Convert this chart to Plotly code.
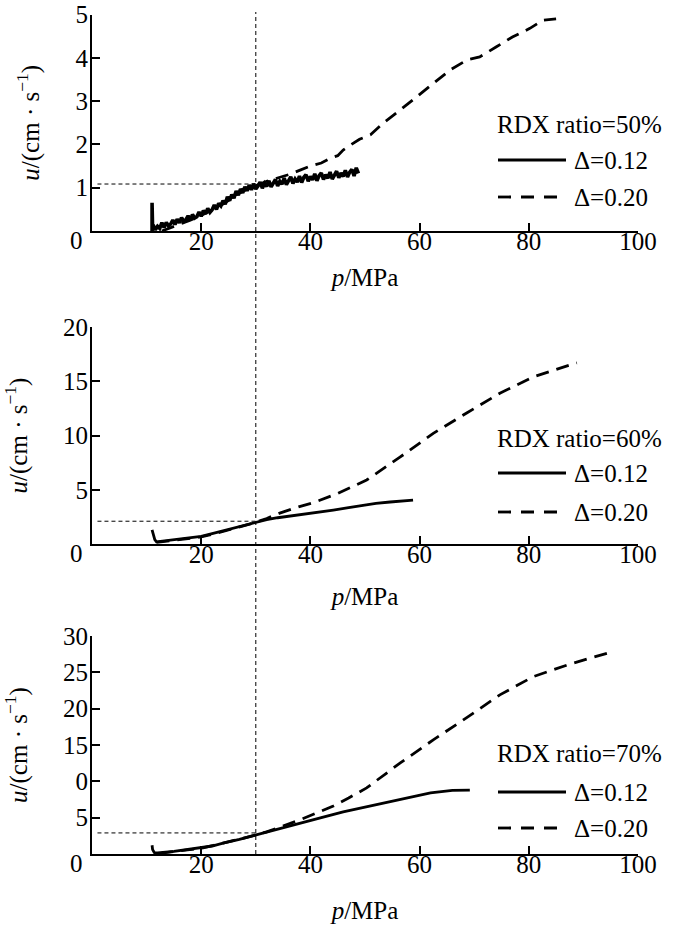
import plotly.graph_objects as go

W, H = 685, 925
FONT = "Times New Roman, Liberation Serif, Times, serif"
FS = 25

# ---------------- data ----------------
x_ticks = [20, 40, 60, 80, 100]

# RDX ratio = 50 %  (Δ=0.12 is a noisy measured trace)
p50_a = [11.0, 11.0, 11.1,
         11.2, 11.6, 12.0, 12.4, 12.8, 13.2, 13.6, 14.0, 14.4, 14.8, 15.2, 15.6, 16.0, 16.4, 16.8,
         17.2, 17.6, 18.0, 18.4, 18.8, 19.2, 19.6, 20.0, 20.4, 20.8, 21.2, 21.6, 22.0, 22.4, 22.8,
         23.2, 23.6, 24.0, 24.4, 24.8, 25.2, 25.6, 26.0, 26.4, 26.8, 27.2, 27.6, 28.0, 28.4, 28.8,
         29.2, 29.6, 30.0, 30.4, 30.8, 31.2, 31.6, 32.0, 32.4, 32.8, 33.2, 33.6, 34.0, 34.4, 34.8,
         35.2, 35.6, 36.0, 36.4, 36.8, 37.2, 37.6, 38.0, 38.4, 38.8, 39.2, 39.6, 40.0, 40.4, 40.8,
         41.2, 41.6, 42.0, 42.4, 42.8, 43.2, 43.6, 44.0, 44.4, 44.8, 45.2, 45.6, 46.0, 46.4, 46.8,
         47.2, 47.6, 48.0, 48.4, 48.8]
u50_a = [0.0, 0.65, 0.05,
         0.14, 0.03, 0.11, 0.06, 0.19, 0.08, 0.2, 0.12, 0.16, 0.25, 0.15, 0.27, 0.19, 0.31, 0.22,
         0.26, 0.35, 0.25, 0.38, 0.3, 0.33, 0.44, 0.34, 0.47, 0.4, 0.52, 0.43, 0.49, 0.6, 0.5,
         0.64, 0.58, 0.7, 0.62, 0.79, 0.7, 0.84, 0.76, 0.92, 0.83, 0.97, 0.88, 1.02, 0.93, 1.06,
         0.95, 1.09, 0.97, 1.04, 1.13, 0.99, 1.1, 1.03, 1.16, 1.02, 1.12, 1.19, 1.04, 1.15, 1.08,
         1.22, 1.07, 1.17, 1.25, 1.1, 1.2, 1.13, 1.27, 1.12, 1.24, 1.3, 1.15, 1.26, 1.18, 1.32,
         1.16, 1.28, 1.34, 1.19, 1.3, 1.22, 1.36, 1.2, 1.31, 1.38, 1.23, 1.34, 1.26, 1.4, 1.25,
         1.36, 1.42, 1.27, 1.46, 1.33]
p50_b = [12.8, 15, 18, 21, 24, 27, 29, 32, 36, 38, 40, 42, 44, 45, 46, 47.5, 49, 51, 53.3, 56.4,
         59.5, 62.5, 65.6, 68.7, 71, 74, 77, 80.2, 82.6, 85]
u50_b = [0.0, 0.1, 0.25, 0.42, 0.62, 0.88, 1.0, 1.15, 1.3, 1.4, 1.5, 1.57, 1.7, 1.74, 1.87, 2.0,
         2.12, 2.22, 2.49, 2.79, 3.1, 3.41, 3.72, 3.95, 4.02, 4.25, 4.48, 4.68, 4.87, 4.9]

# RDX ratio = 60 %
p60_a = [11.0, 11.5, 11.8, 14, 17, 20, 22, 24, 26, 28, 30, 32, 34, 36, 38, 41, 44.2, 47,
         50.3, 52, 54.6, 56, 58.8]
u60_a = [1.3, 0.4, 0.2, 0.32, 0.5, 0.7, 0.95, 1.2, 1.45, 1.72, 2.0, 2.25, 2.42, 2.55, 2.67, 2.9,
         3.13, 3.35, 3.6, 3.75, 3.87, 3.95, 4.05]
p60_b = [11.8, 16, 20, 24, 27, 30, 32, 34.4, 38, 40.5, 45, 50.3, 56.4, 62.5, 68.7, 74.7, 80.8,
         84.4, 88.8]
u60_b = [0.15, 0.4, 0.65, 1.15, 1.55, 2.0, 2.35, 2.85, 3.45, 3.8, 4.65, 5.9, 8.0, 10.2, 12.1,
         13.9, 15.4, 16.0, 16.7]

# RDX ratio = 70 %
p70_a = [11.0, 11.1, 11.4, 12, 15, 17, 19.8, 22, 24, 27, 29.9, 32, 34, 38, 42, 46, 50.3, 54,
         58, 62, 66, 69.2]
u70_a = [1.2, 0.6, 0.2, 0.15, 0.35, 0.55, 0.8, 1.1, 1.5, 2.0, 2.6, 3.0, 3.4, 4.2, 5.0, 5.8,
         6.5, 7.2, 7.8, 8.4, 8.75, 8.8]
p70_b = [12.5, 16, 20, 24, 27, 30, 32, 34.4, 38.1, 41, 44.2, 47, 50.3, 56.4, 62.5, 68.7, 74.7,
         80.8, 87, 91, 94.3]
u70_b = [0.1, 0.45, 0.8, 1.5, 2.0, 2.6, 3.05, 3.7, 4.7, 5.6, 6.6, 7.7, 9.1, 12.5, 15.7, 18.8,
         21.9, 24.4, 26.0, 26.9, 27.6]

ratio_labels = ["RDX ratio=50%", "RDX ratio=60%", "RDX ratio=70%"]
series_labels = ["Δ=0.12", "Δ=0.20"]
y_ranges = [[0, 5], [0, 20], [0, 30]]
y_tickvals = [[1, 2, 3, 4, 5], [5, 10, 15, 20], [5, 10, 15, 20, 25, 30]]
y_ticktext = [["1", "2", "3", "4", "5"], ["5", "10", "15", "20"], ["5", "0", "15", "20", "25", "30"]]
ref_p = 30
ref_u = [1.085, 2.1, 2.9]

# ---------------- layout geometry (pixels) ----------------
def fx(px):
    return px / W

def fy(py):
    return 1 - py / H

x_dom = [fx(92), fx(638)]
y_doms = [[fy(231), fy(14.5)], [fy(544), fy(327)], [fy(854), fy(636)]]
xtitle_standoff = [14, 20, 24]
legend_top = [125, 438, 753]
legend_l1 = [160, 473, 792]
legend_l2 = [197, 512, 828]

fig = go.Figure()
panels = [(p50_a, u50_a, p50_b, u50_b), (p60_a, u60_a, p60_b, u60_b), (p70_a, u70_a, p70_b, u70_b)]
DASH = "13px,8px"
for i, (pa, ua, pb, ub) in enumerate(panels):
    xa = "x" if i == 0 else f"x{i+1}"
    ya = "y" if i == 0 else f"y{i+1}"
    fig.add_trace(go.Scatter(x=pb, y=ub, mode="lines", xaxis=xa, yaxis=ya, name=series_labels[1],
                             line=dict(color="black", width=2.8, dash=DASH), showlegend=False))
    fig.add_trace(go.Scatter(x=pa, y=ua, mode="lines", xaxis=xa, yaxis=ya, name=series_labels[0],
                             line=dict(color="black", width=3.6 if i == 0 else 2.8), showlegend=False))

axis_common = dict(showline=True, linecolor="black", linewidth=2, ticks="inside", ticklen=8,
                   tickwidth=2, tickcolor="black", showgrid=False, zeroline=False, automargin=False,
                   tickfont=dict(family=FONT, size=FS, color="black"))
layout = {}
for i in range(3):
    xk = "xaxis" if i == 0 else f"xaxis{i+1}"
    yk = "yaxis" if i == 0 else f"yaxis{i+1}"
    ya = "y" if i == 0 else f"y{i+1}"
    xa = "x" if i == 0 else f"x{i+1}"
    layout[xk] = dict(axis_common, domain=x_dom, range=[0, 100], tickvals=x_ticks,
                      anchor=ya, ticklabelstandoff=-13,
                      title=dict(text="<i>p</i>/MPa", font=dict(family=FONT, size=FS, color="black"),
                                 standoff=xtitle_standoff[i]))
    layout[yk] = dict(axis_common, domain=y_doms[i], range=y_ranges[i], tickvals=y_tickvals[i],
                      ticktext=y_ticktext[i], anchor=xa, ticklabelstandoff=-3,
                      title=dict(text="<i>u</i>/(cm · s<sup>−1</sup>)",
                                 font=dict(family=FONT, size=FS, color="black"), standoff=29))

fig.update_layout(width=W, height=H, margin=dict(l=0, r=0, t=0, b=0),
                  paper_bgcolor="white", plot_bgcolor="white", showlegend=False,
                  font=dict(family=FONT, size=FS, color="black"), **layout)

shapes = []
annotations = []
for i in range(3):
    xa = "x" if i == 0 else f"x{i+1}"
    ya = "y" if i == 0 else f"y{i+1}"
    # horizontal guide
    shapes.append(dict(type="line", xref=xa, yref=ya, x0=1, x1=ref_p, y0=ref_u[i], y1=ref_u[i],
                       line=dict(color="black", width=1, dash="4px,3px")))
    # origin label
    annotations.append(dict(text="0", xref=xa, yref=ya, x=0, y=0, xshift=-16, yshift=6,
                            xanchor="center", yanchor="top", showarrow=False,
                            font=dict(family=FONT, size=FS, color="black")))
    # legend
    annotations.append(dict(text=ratio_labels[i], xref="paper", yref="paper", x=fx(495),
                            y=fy(legend_top[i]), xanchor="left", yanchor="middle", showarrow=False,
                            font=dict(family=FONT, size=FS, color="black")))
    shapes.append(dict(type="line", xref="paper", yref="paper", x0=fx(498), x1=fx(566),
                       y0=fy(legend_l1[i]), y1=fy(legend_l1[i]), line=dict(color="black", width=2.8)))
    shapes.append(dict(type="line", xref="paper", yref="paper", x0=fx(498), x1=fx(566),
                       y0=fy(legend_l2[i]), y1=fy(legend_l2[i]),
                       line=dict(color="black", width=2.8, dash="13px,10px")))
    annotations.append(dict(text=series_labels[0], xref="paper", yref="paper", x=fx(572),
                            y=fy(legend_l1[i]), xanchor="left", yanchor="middle", showarrow=False,
                            font=dict(family=FONT, size=FS, color="black")))
    annotations.append(dict(text=series_labels[1], xref="paper", yref="paper", x=fx(572),
                            y=fy(legend_l2[i]), xanchor="left", yanchor="middle", showarrow=False,
                            font=dict(family=FONT, size=FS, color="black")))

# vertical guide at p = 30 spanning all panels
shapes.append(dict(type="line", xref="x", yref="paper", x0=ref_p, x1=ref_p, y0=fy(854), y1=fy(12),
                   line=dict(color="black", width=1, dash="4px,3px")))

fig.update_layout(shapes=shapes, annotations=annotations)
fig.write_html("out.html", config={"displayModeBar": False},
               post_script="document.body.style.margin='0px';")
